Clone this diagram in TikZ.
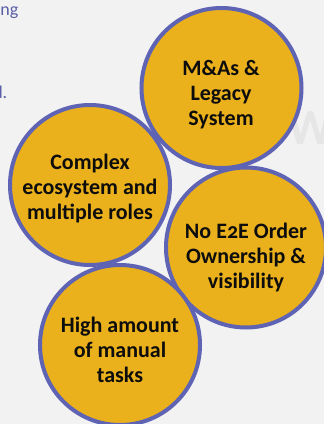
\documentclass[tikz,border=0pt]{standalone}
\usepackage{fontspec}
\setmainfont{Carlito}[Numbers=OldStyle]
\usetikzlibrary{positioning}
\definecolor{paper}{HTML}{F2F2F2}
\definecolor{gold}{HTML}{EAB11C}
\definecolor{ring}{HTML}{5E63B4}
\definecolor{inkblue}{HTML}{5A5EA6}
\definecolor{markgrey}{HTML}{E6E6E6}

\begin{document}
\begin{tikzpicture}[x=1pt,y=-1pt,
    bubble/.style={circle,draw=ring,line width=4pt,fill=gold,minimum size=160pt,inner sep=0pt},
    bubbletext/.style={align=center,inner sep=0pt,text=black!95,font=\fontsize{22}{25}\selectfont\bfseries},
    cuttext/.style={anchor=base east,inner sep=0pt,text=inkblue,font=\fontsize{18}{22}\selectfont}
]
\fill[paper] (0,0) rectangle (324,424);
\useasboundingbox (0,0) rectangle (324,424);
\clip (0,0) rectangle (324,424);

% text running in from the left
\node[cuttext] (linea) at (18.5,15) {ng};
\node[cuttext] (lineb) at (7.5,98) {d.};
\node[anchor=base west,inner sep=0pt,text=markgrey,font=\fontsize{51}{51}\selectfont\bfseries] (mark) at (287,144) {W};

% the four bubbles
\node[bubble] (mna)    at (221.5,88) {};
\node[bubble] (eco)    at (90,185) {};
\node[bubble] (order)  at (246,247.5) {};
\node[bubble] (manual) at (120,345) {};

\node[bubbletext] (mnatext)    at (221,95)    {M\&As \&\\Legacy\\System};
\node[bubbletext] (ecotext)    at (90,188.5)  {Complex\\ecosystem and\\multiple roles};
\node[bubbletext] (ordertext)  at (246,258)   {No E2E Order\\Ownership \&\\visibility};
\node[bubbletext] (manualtext) at (120,349.5) {High amount\\of manual\\tasks};
\end{tikzpicture}
\end{document}
